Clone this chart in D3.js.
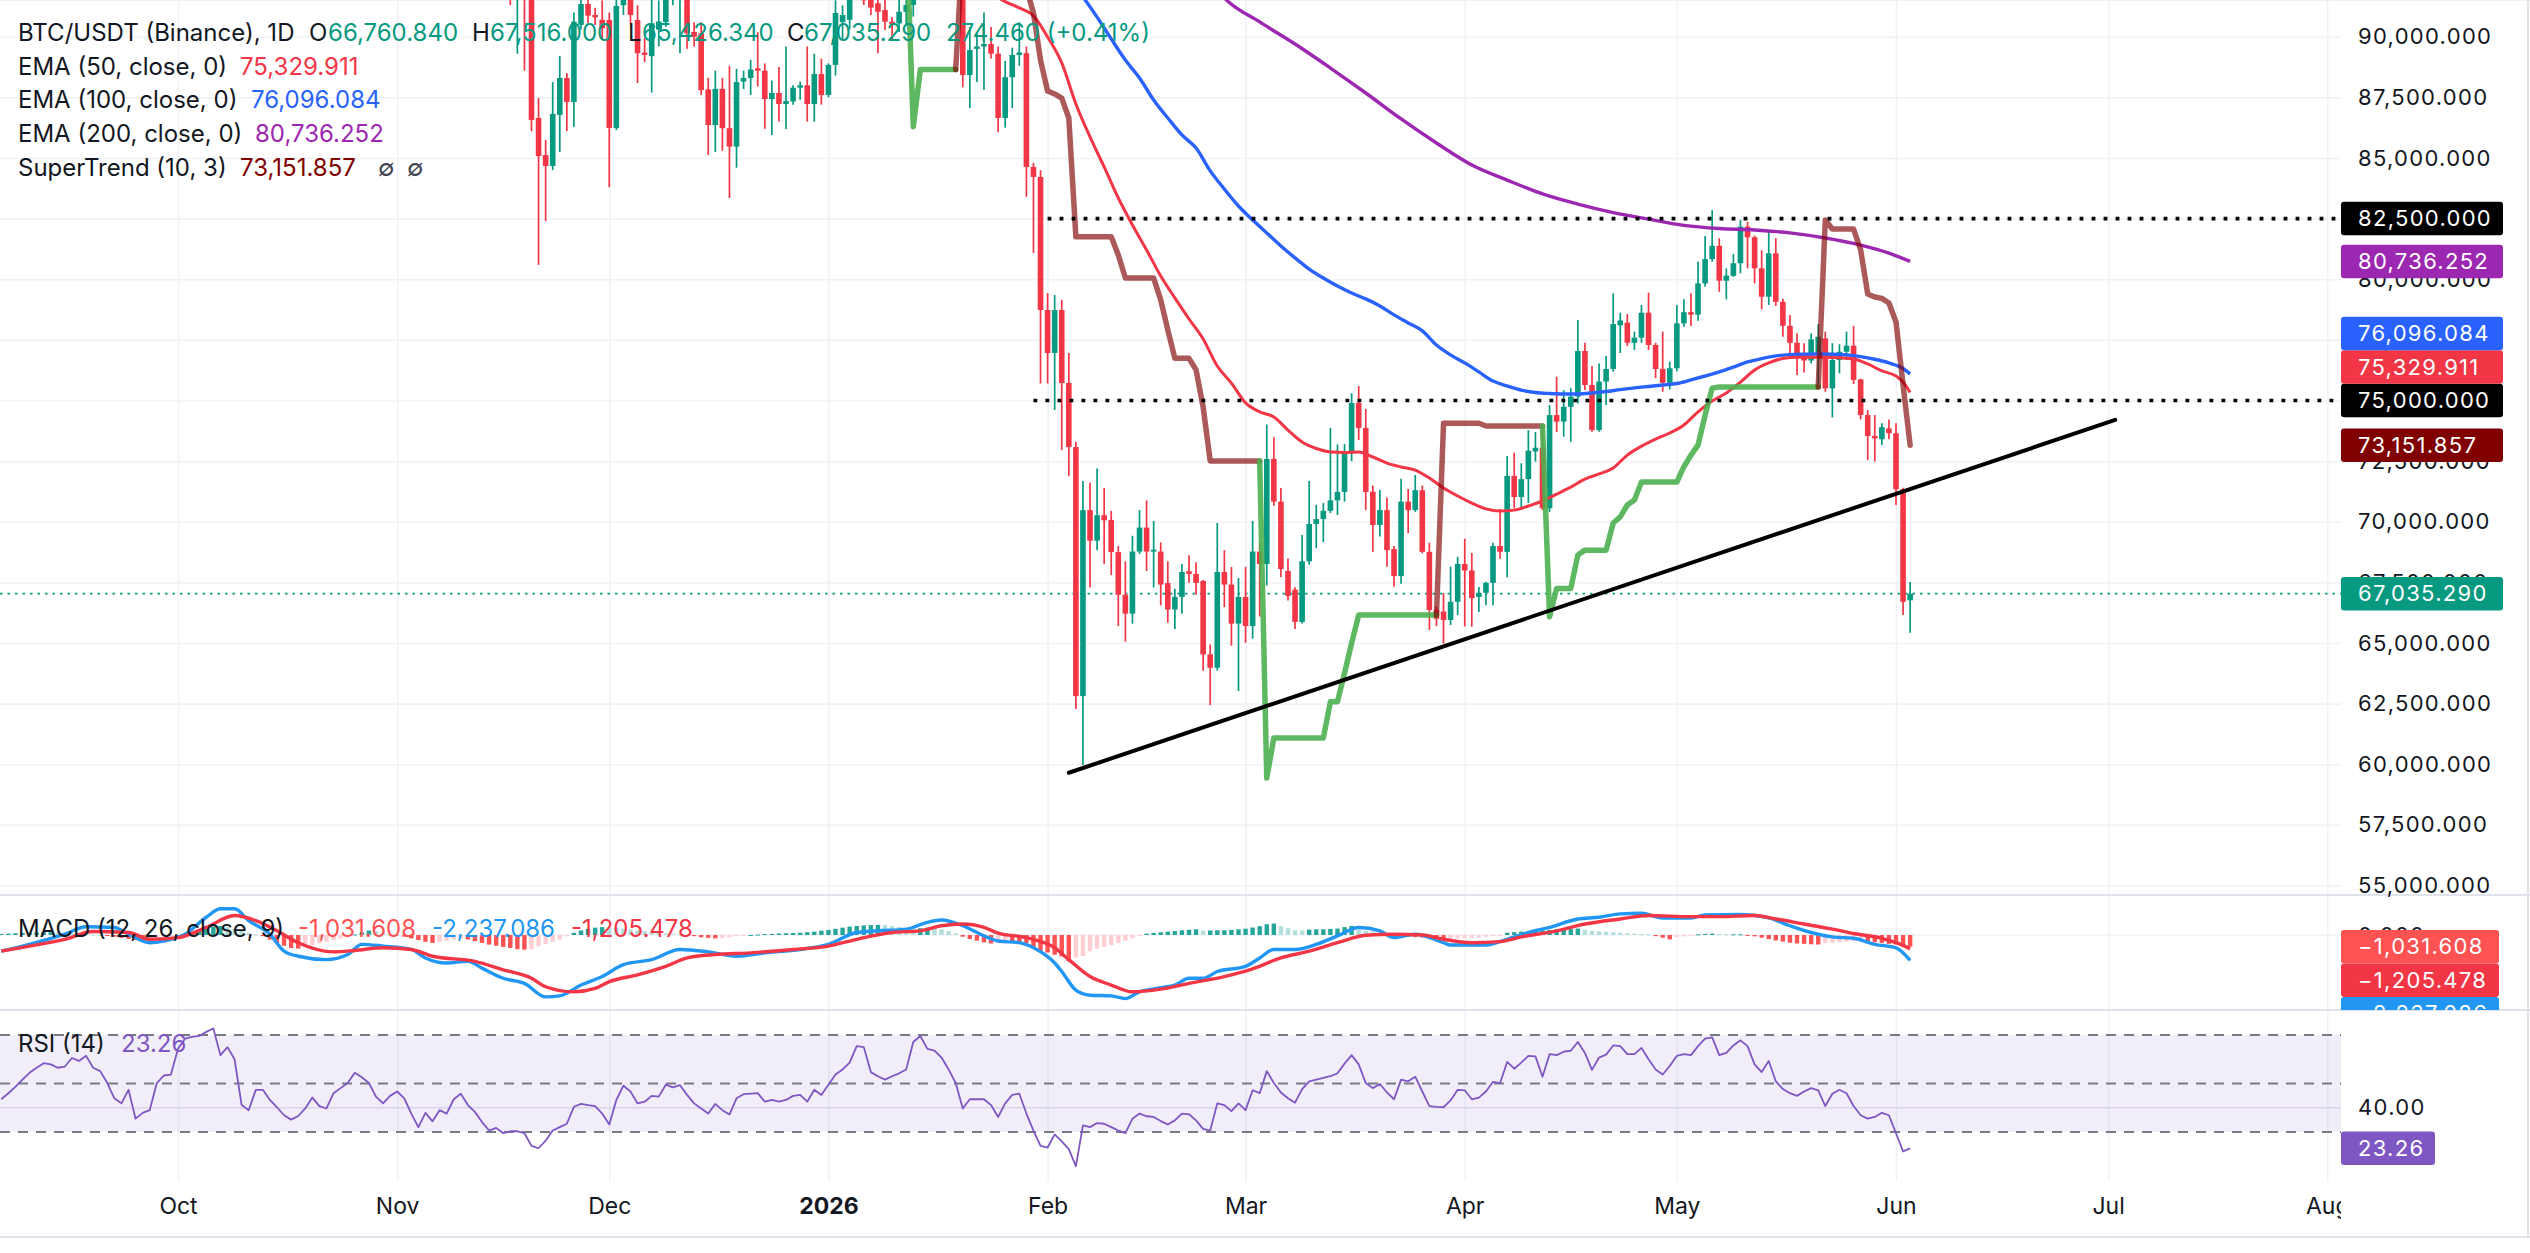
<!DOCTYPE html>
<html>
<head>
<meta charset="utf-8">
<script src="https://cdn.jsdelivr.net/npm/d3@7"></script>
<style>
html, body { margin: 0; padding: 0; background: #fff; }
svg { display: block; font-family: Inter, "Noto Sans", sans-serif; }
</style>
</head>
<body>
<svg id="chart" width="2530" height="1253"></svg>
<script>
// ---- data ----
// daily candles: date, open, high, low, close (days fully above the pane are left out)
var candles = [
  ["2025-11-17",93500,94000,91300,92200],["2025-11-18",91800,93500,89300,92500],["2025-11-19",92300,93000,88600,91600],
  ["2025-11-20",92000,92600,86100,86570],["2025-11-21",86650,87470,80590,85080],["2025-11-22",85120,85740,82400,84670],
  ["2025-11-23",84670,88130,84500,86820],["2025-11-24",86780,89210,85250,88300],["2025-11-25",88300,88500,86110,87310],
  ["2025-11-26",87310,91000,86280,90620],["2025-11-27",90490,91800,90300,91350],["2025-11-28",91350,91900,90570,90870],
  ["2025-11-29",90900,91200,90480,90800],["2025-11-30",90700,91500,89900,90350],["2025-12-01",90690,91000,83800,86240],
  ["2025-12-02",86240,92000,86150,91270],["2025-12-03",91300,93400,90900,92800],["2025-12-04",93000,93500,90500,90900],
  ["2025-12-05",90690,91300,88090,89320],["2025-12-06",89350,89950,88950,89250],["2025-12-07",89200,91600,87700,90560],
  ["2025-12-08",90300,91500,89600,90630],["2025-12-09",90600,92500,90400,92000],["2025-12-10",92000,93000,91300,92500],
  ["2025-12-11",91600,93000,89320,92400],["2025-12-12",92000,92500,89500,90140],["2025-12-13",90200,90600,89600,90000],
  ["2025-12-14",90140,90600,87600,87800],["2025-12-15",87830,88300,85120,86360],["2025-12-16",86360,88600,85250,87850],
  ["2025-12-17",87850,88300,85300,86230],["2025-12-18",86230,88800,83350,85470],["2025-12-19",85470,88680,84600,88130],
  ["2025-12-20",88150,88600,87850,88300],["2025-12-21",88300,89050,87600,88650],["2025-12-22",88700,90190,87950,88600],
  ["2025-12-23",88600,88900,86200,87430],["2025-12-24",87430,88200,85950,87680],["2025-12-25",87680,88750,86500,87225],
  ["2025-12-26",87225,89600,86200,87350],["2025-12-27",87330,88000,87200,87900],["2025-12-28",87900,88150,87400,88000],
  ["2025-12-29",88000,89600,86500,87225],["2025-12-30",87225,89300,86500,88460],["2025-12-31",88460,89100,87200,87600],
  ["2026-01-01",87600,88900,87500,88840],["2026-01-02",88840,91500,88400,90980],["2026-01-03",90600,91300,89900,90900],
  ["2026-01-04",90700,92500,90300,92000],["2026-01-06",92500,93500,91310,91500],["2026-01-07",92000,92500,90900,91200],
  ["2026-01-08",91380,91800,89320,91030],["2026-01-09",91100,91520,90280,90620],["2026-01-10",90620,90800,89900,90520],
  ["2026-01-11",90550,91600,90200,91030],["2026-01-12",91030,91600,90500,91310],["2026-01-13",91310,92500,90830,92000],
  ["2026-01-20",93500,94000,87920,88420],["2026-01-21",88420,90400,87060,89450],["2026-01-22",89500,90200,88130,89600],
  ["2026-01-23",89600,91000,87800,89700],["2026-01-24",89700,90400,89100,89300],["2026-01-25",89300,89600,86060,86650],
  ["2026-01-26",86650,89000,86250,88330],["2026-01-27",88330,89550,87060,89250],["2026-01-28",89250,90600,88800,89350],
  ["2026-01-29",89320,89600,83400,84630],["2026-01-30",84630,84800,81080,84220],["2026-01-31",84220,84500,75700,78730],
  ["2026-02-01",78730,79430,75700,76960],["2026-02-02",76960,79350,74610,78730],["2026-02-03",78730,79150,72960,75720],
  ["2026-02-04",75720,76960,71880,73080],["2026-02-05",73080,73300,62280,62810],["2026-02-06",62810,71680,59970,70480],
  ["2026-02-07",70480,71620,67290,69220],["2026-02-08",69220,72200,68830,70270],["2026-02-09",70270,71390,68260,70060],
  ["2026-02-10",70070,70450,67800,68750],["2026-02-11",68750,69000,65700,66990],["2026-02-12",66990,68370,65060,66210],
  ["2026-02-13",66210,69420,65800,68770],["2026-02-14",68770,70480,68670,69760],["2026-02-15",69760,70880,67970,68770],
  ["2026-02-16",68770,70030,67290,68850],["2026-02-17",68770,69150,66550,67410],["2026-02-18",67470,68370,65840,66380],
  ["2026-02-19",66380,67240,65580,66900],["2026-02-20",66900,68260,66210,67930],["2026-02-21",67960,68620,67480,67850],
  ["2026-02-22",67850,68330,66990,67480],["2026-02-23",67560,67600,63860,64530],["2026-02-24",64530,64940,62440,63980],
  ["2026-02-25",63980,69950,63860,67930],["2026-02-26",67930,68830,66480,67410],["2026-02-27",67410,68140,64890,65800],
  ["2026-02-28",65800,67680,63020,66900],["2026-03-01",66900,68140,65010,65700],["2026-03-02",65700,70030,65180,68770],
  ["2026-03-03",68770,69150,66090,68260],["2026-03-04",68260,74010,67370,72590],["2026-03-05",72590,73490,70660,70830],
  ["2026-03-06",70830,71390,67720,68050],["2026-03-07",67970,68480,66750,66940],["2026-03-08",67200,67300,65580,65870],
  ["2026-03-09",65870,69450,65800,68370],["2026-03-10",68370,71680,68230,69910],["2026-03-11",69910,70700,68910,70110],
  ["2026-03-12",70110,70770,69160,70450],["2026-03-13",70450,73870,70360,70880],["2026-03-14",70880,73190,70280,71230],
  ["2026-03-15",71230,73200,70830,72850],["2026-03-16",72830,75300,72500,74900],["2026-03-17",74900,75600,73370,73870],
  ["2026-03-18",73870,74650,70480,71230],["2026-03-19",71240,71500,68760,69870],["2026-03-20",69870,71310,69390,70480],
  ["2026-03-21",70480,71000,68140,68830],["2026-03-22",68870,69000,67320,67760],["2026-03-23",67760,71770,67440,70830],
  ["2026-03-24",70830,71350,69530,70480],["2026-03-25",70480,71930,70410,71300],["2026-03-26",71300,71500,68700,68760],
  ["2026-03-27",68760,69130,65540,66360],["2026-03-28",66360,66500,65700,66000],["2026-03-29",66300,67060,64980,65950],
  ["2026-03-30",65950,68150,65740,66700],["2026-03-31",66700,68560,66150,68260],["2026-04-01",68260,69300,65680,67990],
  ["2026-04-02",67990,68710,65670,66850],["2026-04-03",66900,67310,66280,67070],["2026-04-04",67070,67530,66560,67480],
  ["2026-04-05",67480,69130,66560,69000],["2026-04-06",69000,70530,68470,68760],["2026-04-07",68760,72710,67710,71890],
  ["2026-04-08",71890,72850,70560,71020],["2026-04-09",71020,72410,70480,71760],["2026-04-10",71760,73780,70780,72930],
  ["2026-04-11",72900,73700,72480,73050],["2026-04-12",73050,73920,70480,70560],["2026-04-13",70560,74810,70400,74400],
  ["2026-04-14",74400,75980,73700,74130],["2026-04-15",74130,75430,73510,74740],["2026-04-16",74740,75510,73300,75160],
  ["2026-04-17",75160,78320,74880,77040],["2026-04-18",77040,77380,75430,75640],["2026-04-19",75640,76420,73710,73780],
  ["2026-04-20",73780,76530,73710,75780],["2026-04-21",75780,76840,74810,76300],["2026-04-22",76300,79420,76190,78150],
  ["2026-04-23",78100,78620,76960,78300],["2026-04-24",78210,78570,77250,77380],["2026-04-25",77380,77840,77080,77590],
  ["2026-04-26",77590,78940,77380,78620],["2026-04-27",78620,79450,77080,77290],["2026-04-28",77290,77380,75920,76300],
  ["2026-04-29",76300,77840,75360,75730],["2026-04-30",75730,76600,75460,76330],["2026-05-01",76330,78940,76200,78180],
  ["2026-05-02",78180,79170,78040,78640],["2026-05-03",78640,79420,78070,78540],["2026-05-04",78540,80720,78290,79830],
  ["2026-05-05",79830,81780,79690,80830],["2026-05-06",80830,82850,80720,81380],["2026-05-07",81380,81690,79480,79940],
  ["2026-05-08",79940,80450,79170,80150],["2026-05-09",80140,81040,80100,80660],["2026-05-10",80660,82440,80250,82170],
  ["2026-05-11",82170,82370,80450,81730],["2026-05-12",81730,81800,79830,80450],["2026-05-13",80450,81200,78760,79280],
  ["2026-05-14",79280,82030,78940,81070],["2026-05-15",81070,81690,78900,79070],["2026-05-16",79070,79200,77630,78080],
  ["2026-05-17",78080,78530,76800,77380],["2026-05-18",77380,77770,76050,76880],["2026-05-19",76950,77360,76150,76650],
  ["2026-05-20",76650,77770,76530,77520],["2026-05-21",76900,78150,75570,77630],["2026-05-22",77560,77840,75360,75500],
  ["2026-05-23",75500,77360,74300,76670],["2026-05-24",76670,77320,76120,77010],["2026-05-25",77010,77840,76670,77260],
  ["2026-05-26",77260,78070,75680,75850],["2026-05-27",75870,75900,74220,74400],["2026-05-28",74400,74610,72540,73540],
  ["2026-05-29",73540,74400,72480,73440],["2026-05-30",73400,74060,73160,73900],["2026-05-31",73850,74220,73400,73650],
  ["2026-06-01",73650,74060,70690,71340],["2026-06-02",71340,71400,66150,66700],["2026-06-03",66760.84,67516,65426.34,67035.29]
];

var ema50 = [
  ["2026-01-24",91800],["2026-01-26",91450],["2026-01-28",91190],["2026-01-30",90860],["2026-02-01",89990],
  ["2026-02-03",88920],["2026-02-05",87230],["2026-02-07",85870],["2026-02-09",84630],["2026-02-11",83350],
  ["2026-02-13",82240],["2026-02-15",81210],["2026-02-17",80130],["2026-02-19",79230],["2026-02-21",78360],
  ["2026-02-23",77540],["2026-02-25",76420],["2026-02-27",75720],["2026-03-01",74900],["2026-03-03",74530],
  ["2026-03-05",74320],["2026-03-07",73780],["2026-03-09",73290],["2026-03-11",73020],["2026-03-13",72880],
  ["2026-03-15",72860],["2026-03-17",72880],["2026-03-19",72670],["2026-03-21",72420],["2026-03-23",72260],
  ["2026-03-25",72130],["2026-03-27",71800],["2026-03-29",71390],["2026-03-31",71060],["2026-04-02",70770],
  ["2026-04-04",70530],["2026-04-06",70440],["2026-04-08",70480],["2026-04-10",70650],["2026-04-12",70860],
  ["2026-04-14",71140],["2026-04-16",71430],["2026-04-18",71760],["2026-04-20",71970],["2026-04-22",72220],
  ["2026-04-24",72750],["2026-04-26",73120],["2026-04-28",73410],["2026-04-30",73660],["2026-05-02",73990],
  ["2026-05-04",74530],["2026-05-06",74980],["2026-05-08",75310],["2026-05-10",75760],["2026-05-12",76260],
  ["2026-05-14",76550],["2026-05-16",76730],["2026-05-18",76780],["2026-05-20",76780],["2026-05-22",76780],
  ["2026-05-24",76760],["2026-05-26",76710],["2026-05-28",76510],["2026-05-30",76220],["2026-06-01",76010],
  ["2026-06-02",75760],["2026-06-03",75329.911]
];

var ema100 = [
  ["2026-02-04",92380],["2026-02-06",91640],["2026-02-08",90810],["2026-02-10",89910],["2026-02-12",89040],
  ["2026-02-14",88300],["2026-02-16",87390],["2026-02-18",86650],["2026-02-20",85950],["2026-02-22",85410],
  ["2026-02-24",84470],["2026-02-26",83720],["2026-02-28",83020],["2026-03-02",82440],["2026-03-04",81910],
  ["2026-03-06",81370],["2026-03-08",80880],["2026-03-10",80420],["2026-03-12",80050],["2026-03-14",79720],
  ["2026-03-16",79430],["2026-03-18",79190],["2026-03-20",78900],["2026-03-22",78530],["2026-03-24",78200],
  ["2026-03-26",77870],["2026-03-28",77290],["2026-03-30",76880],["2026-04-01",76550],["2026-04-03",76180],
  ["2026-04-05",75800],["2026-04-07",75600],["2026-04-09",75430],["2026-04-11",75330],["2026-04-13",75290],
  ["2026-04-15",75270],["2026-04-17",75270],["2026-04-19",75310],["2026-04-21",75370],["2026-04-23",75450],
  ["2026-04-25",75520],["2026-04-27",75580],["2026-04-29",75640],["2026-05-01",75700],["2026-05-03",75850],
  ["2026-05-05",76010],["2026-05-07",76180],["2026-05-09",76380],["2026-05-11",76590],["2026-05-13",76730],
  ["2026-05-15",76840],["2026-05-17",76890],["2026-05-19",76910],["2026-05-21",76920],["2026-05-23",76910],
  ["2026-05-25",76880],["2026-05-27",76810],["2026-05-29",76700],["2026-05-31",76550],["2026-06-02",76320],
  ["2026-06-03",76096.084]
];

var ema200 = [
  ["2026-02-24",92300],["2026-02-26",91600],["2026-03-03",90610],["2026-03-08",89700],["2026-03-13",88710],
  ["2026-03-18",87680],["2026-03-23",86610],["2026-03-28",85620],["2026-04-02",84710],["2026-04-07",84090],
  ["2026-04-12",83520],["2026-04-17",83100],["2026-04-22",82750],["2026-04-27",82480],["2026-05-02",82220],
  ["2026-05-07",82090],["2026-05-12",82030],["2026-05-17",81910],["2026-05-22",81700],["2026-05-27",81410],
  ["2026-05-31",81080],["2026-06-03",80736.252]
];

// SuperTrend (10, 3): first day, last day, level, direction (1 = up / green, -1 = down)
var superTrend = [
  ["2026-01-10","2026-01-12",94600,-1],["2026-01-13","2026-01-13",86290,1],["2026-01-14","2026-01-19",88650,1],
  ["2026-01-20","2026-01-25",93800,-1],["2026-01-26","2026-01-29",92000,-1],["2026-01-30","2026-01-30",90980,-1],
  ["2026-01-31","2026-01-31",89040,-1],["2026-02-01","2026-02-01",87760,-1],["2026-02-02","2026-02-02",87640,-1],
  ["2026-02-03","2026-02-03",87470,-1],["2026-02-04","2026-02-04",86650,-1],["2026-02-05","2026-02-10",81750,-1],
  ["2026-02-11","2026-02-11",81000,-1],["2026-02-12","2026-02-16",80050,-1],["2026-02-17","2026-02-17",79150,-1],
  ["2026-02-18","2026-02-18",77910,-1],["2026-02-19","2026-02-21",76740,-1],["2026-02-22","2026-02-22",76260,-1],
  ["2026-02-23","2026-02-23",74730,-1],["2026-02-24","2026-03-03",72510,-1],["2026-03-04","2026-03-04",59430,1],
  ["2026-03-05","2026-03-12",61080,1],["2026-03-13","2026-03-14",62580,1],["2026-03-15","2026-03-15",63760,1],
  ["2026-03-16","2026-03-16",65000,1],["2026-03-17","2026-03-28",66150,1],["2026-03-29","2026-04-03",74060,-1],
  ["2026-04-04","2026-04-12",73950,-1],["2026-04-13","2026-04-13",66080,1],["2026-04-14","2026-04-16",67250,1],
  ["2026-04-17","2026-04-17",68630,1],["2026-04-18","2026-04-21",68830,1],["2026-04-22","2026-04-22",69950,1],
  ["2026-04-23","2026-04-23",70200,1],["2026-04-24","2026-04-24",70690,1],["2026-04-25","2026-04-25",70900,1],
  ["2026-04-26","2026-05-01",71640,1],["2026-05-02","2026-05-02",72270,1],["2026-05-03","2026-05-03",72750,1],
  ["2026-05-04","2026-05-04",73160,1],["2026-05-05","2026-05-05",74400,1],["2026-05-06","2026-05-06",75510,1],
  ["2026-05-07","2026-05-21",75560,1],["2026-05-22","2026-05-22",82440,-1],["2026-05-23","2026-05-26",82070,-1],
  ["2026-05-27","2026-05-27",81210,-1],["2026-05-28","2026-05-28",79390,-1],["2026-05-29","2026-05-29",79270,-1],
  ["2026-05-30","2026-05-30",79210,-1],["2026-05-31","2026-05-31",79020,-1],["2026-06-01","2026-06-01",78240,-1],
  ["2026-06-02","2026-06-02",75640,-1],["2026-06-03","2026-06-03",73151.857,-1]
];

var trendLine = [["2026-02-04",59650],["2026-07-02",74200]];
var levels = [["2026-02-01",82500],["2026-01-30",75000]];
var lastClose = 67035.29;

// MACD (12, 26, close, 9)
var macdLine = [
  ["2025-09-06",-1430],["2025-09-10",-830],["2025-09-15",70],["2025-09-18",730],["2025-09-22",670],["2025-09-24",70],
  ["2025-09-27",-680],["2025-09-29",-530],["2025-10-02",70],["2025-10-05",1570],["2025-10-07",2320],["2025-10-09",2320],
  ["2025-10-11",1270],["2025-10-14",70],["2025-10-16",-1430],["2025-10-18",-1880],["2025-10-22",-2180],["2025-10-25",-1730],
  ["2025-10-27",-830],["2025-10-30",-980],["2025-11-03",-1280],["2025-11-05",-2030],["2025-11-08",-2480],["2025-11-11",-2330],
  ["2025-11-13",-2930],["2025-11-16",-3830],["2025-11-19",-4280],["2025-11-22",-5480],["2025-11-24",-5390],["2025-11-27",-4430],
  ["2025-11-30",-3680],["2025-12-03",-2630],["2025-12-07",-2180],["2025-12-11",-1280],["2025-12-15",-1490],["2025-12-19",-1880],
  ["2025-12-23",-1580],["2025-12-28",-1280],["2026-01-01",-830],["2026-01-05",220],["2026-01-08",370],["2026-01-12",520],
  ["2026-01-15",1120],["2026-01-17",1330],["2026-01-20",820],["2026-01-23",-80],["2026-01-25",-530],["2026-01-28",-680],
  ["2026-01-30",-1130],["2026-02-02",-2480],["2026-02-03",-3230],["2026-02-05",-4880],["2026-02-07",-5330],["2026-02-10",-5390],
  ["2026-02-12",-5630],["2026-02-14",-5030],["2026-02-17",-4670],["2026-02-19",-4430],["2026-02-21",-3830],["2026-02-23",-3830],
  ["2026-02-25",-3230],["2026-03-01",-2780],["2026-03-03",-2030],["2026-03-05",-1280],["2026-03-08",-1280],["2026-03-11",-830],
  ["2026-03-14",-80],["2026-03-17",670],["2026-03-20",370],["2026-03-22",-230],["2026-03-25",70],["2026-03-29",-680],
  ["2026-03-30",-890],["2026-04-04",-890],["2026-04-07",-380],["2026-04-10",220],["2026-04-13",670],["2026-04-17",1420],
  ["2026-04-20",1570],["2026-04-23",1870],["2026-04-26",1930],["2026-04-29",1510],["2026-05-03",1510],["2026-05-05",1780],
  ["2026-05-10",1810],["2026-05-14",1510],["2026-05-17",820],["2026-05-20",220],["2026-05-23",-170],["2026-05-26",-290],
  ["2026-05-29",-830],["2026-06-01",-1130],["2026-06-03",-2237.086]
];
var signalLine = [
  ["2025-09-06",-1430],["2025-09-10",-980],["2025-09-15",-380],["2025-09-19",310],["2025-09-24",220],["2025-09-27",-380],
  ["2025-10-01",-230],["2025-10-05",670],["2025-10-09",1720],["2025-10-12",1270],["2025-10-15",370],["2025-10-18",-680],
  ["2025-10-23",-1490],["2025-10-26",-1370],["2025-10-30",-1130],["2025-11-03",-1280],["2025-11-06",-1880],["2025-11-12",-2330],
  ["2025-11-16",-3080],["2025-11-20",-3830],["2025-11-22",-4580],["2025-11-26",-5030],["2025-11-29",-4730],["2025-12-01",-4130],
  ["2025-12-05",-3530],["2025-12-09",-2780],["2025-12-12",-2030],["2025-12-16",-1730],["2025-12-21",-1580],["2025-12-27",-1280],
  ["2026-01-01",-980],["2026-01-05",-380],["2026-01-10",220],["2026-01-14",370],["2026-01-17",820],["2026-01-20",970],
  ["2026-01-23",670],["2026-01-25",170],["2026-01-29",-230],["2026-02-02",-1130],["2026-02-04",-2180],["2026-02-07",-3680],
  ["2026-02-10",-4430],["2026-02-13",-5030],["2026-02-17",-4790],["2026-02-21",-4280],["2026-02-26",-3680],["2026-03-02",-2990],
  ["2026-03-06",-2030],["2026-03-10",-1430],["2026-03-14",-680],["2026-03-18",-20],["2026-03-22",70],["2026-03-26",10],
  ["2026-03-29",-380],["2026-04-02",-680],["2026-04-06",-590],["2026-04-09",-170],["2026-04-14",370],["2026-04-18",970],
  ["2026-04-23",1420],["2026-04-27",1720],["2026-05-03",1630],["2026-05-07",1630],["2026-05-12",1720],["2026-05-15",1420],
  ["2026-05-19",970],["2026-05-23",520],["2026-05-26",130],["2026-05-30",-290],["2026-06-01",-680],["2026-06-03",-1205.478]
];
// histogram, one bar a day
var histStartA = "2025-09-06";
var histA = [
  100,120,150,180,200,220,250,250,230,200,150,120,
  80,40,0,-60, -150,-250,-350,-450,-500,-400, -300,-200,-100,0,100,200,
  400,600,750,800,700, 550,400,200,50,-100, -400,-700,-950,-1150,-1200,
  -1050,-900,-750,-600,-450, -300,-150,50,250,400,350, 200,100,0,
  -150,-300,-450,-600,-700, -600,-500,-400,-300,
  -400,-550,-700,-850,-950,-1050,-1150,-1250,-1300,-1250, -1000,-800,-600,-400,
  -100,200,400,550,650,700,680,620,560,500, 420,350,280,200,150,100,
  50,-50,-100,-200,-250,-300,-250,-200, -120,-60,0,40,80,100,130,150,180,200,
  250,300,380,450,550,650,750,800,850,880,900,880, 800,700,600,550,600,650,
  620,500,350,150, -150,-350,-500,-650,-750,-700
];
var histStartB = "2026-01-26";
var histB = [
  -450,-550,-650,-700,-1100,-1400,-1550,-1750,-1900,-2340,
  -2000,-1850,-1450,-1200,-1050,-900,-720,-500,-280,-80,
  120,180,240,300,350,420,470,510,380,400,
  420,420,450,500,560,660,780,950,1020,800,
  600,420,400,480,500,510,540,570,700,810,
  480,380,300,210,-100,-150,-200,-120,-180,-220,
  -300,-380,-390,-330,-300,-260,-240,-200,-160,-100,
  -40,200,250,300,330,360,400,450,500,510,
  520,570,450,360,330,300,240,200,150,120,
  80,60,-100,-240,-390,-180,-120,-90,60,100,
  120,80,60,60,60,-60,-120,-240,-360,-480,
  -580,-690,-750,-780,-820,-840,-720,-690,-640,-600,
  -520,-480,-540,-640,-700,-780,-840,-950,-1031.608
];

// RSI (14), one value a day
var rsiStartA = "2025-09-06";
var rsiA = [
  43.5,46.0,48.6,51.6,54.4,56.5,58.4,57.9,56.5,57.0,
  60.5,59.3,61.4,56.5,55.1,50.2,43.9,41.8,47.4,35.5,
  37.9,39.0,50.2,53.3,53.7,64.3,68.5,69.2,69.6,71.3,
  72.7,61.7,65.0,60.0,41.1,39.0,47.4,47.4,43.2,40.2,
  36.9,35.1,36.6,39.7,44.2,40.7,39.7,46.0,48.1,50.2,
  54.4,52.6,50.2,44.6,41.8,44.9,46.7,43.9,37.6,32.0,
  37.9,34.4,39.0,37.6,43.5,45.8,41.1,38.3,34.1,30.6,
  31.7,29.5,30.3,30.3,29.5,24.3,23.3,26.4,30.6,32.0,
  33.4,40.4,41.6,41.1,40.7,37.6,33.1,43.2,49.1,46.7,
  41.8,42.5,44.9,44.6,49.5,48.4,49.3,45.3,41.8,39.7,
  37.6,41.6,39.0,37.2,43.9,45.6,45.8,46.0,42.5,43.2,
  42.5,43.2,44.9,45.3,42.5,47.4,45.3,49.5,53.7,55.8,
  58.6,65.4,65.0,54.7,53.0,51.6,53.0,54.2,55.8,67.1,
  69.6,64.3,63.6,60.7,55.8,50.2,39.7,43.5,43.5,43.5,
  41.1,36.2
];
var rsiStartB = "2026-01-26";
var rsiB = [
  41.8,45.3,45.8,37.6,30.6,24.3,23.6,29.0,26.1,22.9,
  15.9,32.7,32.0,33.7,33.4,32.0,30.6,29.5,35.5,37.6,
  36.5,36.2,34.5,33.1,34.8,37.6,37.3,34.8,31.3,30.6,
  41.8,41.1,38.6,41.8,39.0,47.2,46.0,55.1,50.2,46.3,
  43.9,42.1,47.7,50.9,51.6,52.3,53.0,54.2,58.2,61.7,
  57.9,50.2,48.1,49.8,46.3,43.5,51.6,50.9,52.8,46.7,
  40.7,40.4,40.2,43.0,47.4,47.2,43.5,44.2,46.7,50.7,
  50.2,58.9,56.1,58.6,61.4,61.2,52.8,62.1,61.7,63.1,
  63.5,67.1,62.6,55.6,60.7,61.9,65.7,65.4,62.1,62.1,
  64.7,60.0,55.8,53.7,57.2,61.4,62.1,61.7,65.4,68.5,
  69.0,61.7,62.6,65.7,67.8,65.4,57.9,54.7,59.3,50.9,
  47.7,46.0,44.9,46.7,48.1,47.2,40.7,45.8,47.4,46.0,
  40.7,36.9,35.5,36.2,37.9,36.9,29.5,22.0,23.26
];

var monthTicks = ["2025-10-01","2025-11-01","2025-12-01","2026-01-01","2026-02-01","2026-03-01",
  "2026-04-01","2026-05-01","2026-06-01","2026-07-01","2026-08-01"];
var monthLabels = ["Oct","Nov","Dec","2026","Feb","Mar","Apr","May","Jun","Jul","Aug"];
var priceTicks = d3.range(55000, 90001, 2500);

// ---- layout ----
var parseDay = d3.utcParse("%Y-%m-%d");
var plotRight = 2341, mainBottom = 894, macdTop = 896, macdBottom = 1009, rsiTop = 1011, rsiBottom = 1181;
var upColor = "#089981", downColor = "#F23645";
var textColor = "#131722", gridColor = "#F0F2F6", sepColor = "#E0E3EB";
var axisFont = 22, legendFont = 24;

var x = d3.scaleUtc()
    .domain([parseDay("2025-10-01"), parseDay("2026-06-01")])
    .range([178, 1896]);
var y = d3.scaleLinear().domain([54650, 91515]).range([mainBottom, 0]);
var yMacd = d3.scaleLinear().domain([-5630, 0]).range([998.6, 935]);
var yRsi = d3.scaleLinear().domain([30, 70]).range([1132, 1035]);

var svg = d3.select("#chart");
var defs = svg.append("defs");
var clip = (id, x0, y0, w, h) => defs.append("clipPath").attr("id", id)
    .append("rect").attr("x", x0).attr("y", y0).attr("width", w).attr("height", h);
clip("clipMain", 0, 0, plotRight, mainBottom);
clip("clipMacd", 0, macdTop, plotRight, macdBottom - macdTop);
clip("clipRsi", 0, rsiTop, plotRight, rsiBottom - rsiTop);
clip("clipTime", 0, rsiBottom, plotRight, 56);
clip("clipMacdAxis", plotRight, macdTop, 200, macdBottom - macdTop + 1);

svg.append("rect").attr("width", 2530).attr("height", 1253).attr("fill", "#fff");

// grid
svg.append("g")
    .attr("transform", `translate(0,${rsiBottom})`)
    .call(d3.axisBottom(x).tickValues(monthTicks.map(parseDay)).tickSize(-rsiBottom).tickFormat(""))
    .call(g => g.select(".domain").remove())
    .call(g => g.selectAll(".tick line").attr("stroke", gridColor).attr("stroke-width", 1.6));

svg.append("g")
    .call(d3.axisLeft(y).tickValues(priceTicks).tickSize(-plotRight).tickFormat(""))
    .call(g => g.select(".domain").remove())
    .call(g => g.selectAll(".tick line").attr("stroke", gridColor).attr("stroke-width", 1.6));

svg.append("line").attr("x1", 0).attr("x2", plotRight).attr("y1", yMacd(0)).attr("y2", yMacd(0))
    .attr("stroke", gridColor).attr("stroke-width", 1.6);
svg.append("line").attr("x1", 0).attr("x2", plotRight).attr("y1", yRsi(40)).attr("y2", yRsi(40))
    .attr("stroke", "#E6E3EF").attr("stroke-width", 1.6);

// separators
[[0, 1], [mainBottom + 1, 2], [rsiTop - 1, 2], [1237, 2]].forEach(s => {
    svg.append("line").attr("x1", 0).attr("x2", 2530).attr("y1", s[0]).attr("y2", s[0])
        .attr("stroke", sepColor).attr("stroke-width", s[1]);
});
svg.append("line").attr("x1", 2528).attr("x2", 2528).attr("y1", 0).attr("y2", 1238)
    .attr("stroke", sepColor).attr("stroke-width", 2);

// ---- main pane ----
var main = svg.append("g").attr("clip-path", "url(#clipMain)");

main.append("line")
    .attr("x1", 0).attr("x2", plotRight).attr("y1", y(lastClose)).attr("y2", y(lastClose))
    .attr("stroke", upColor).attr("stroke-width", 1.6).attr("stroke-dasharray", "2.5 5");

var bars = candles.map(c => ({date: parseDay(c[0]), o: c[1], h: c[2], l: c[3], c: c[4]}));
var barColor = d => d.c >= d.o ? upColor : downColor;

main.append("g").selectAll("line").data(bars).join("line")
    .attr("x1", d => x(d.date)).attr("x2", d => x(d.date))
    .attr("y1", d => y(d.h)).attr("y2", d => y(d.l))
    .attr("stroke", barColor).attr("stroke-width", 1.7);

main.append("g").selectAll("rect").data(bars).join("rect")
    .attr("x", d => x(d.date) - 2.8).attr("width", 5.6)
    .attr("y", d => y(Math.max(d.o, d.c)))
    .attr("height", d => Math.max(1.6, Math.abs(y(d.o) - y(d.c))))
    .attr("fill", barColor);

var emaLine = d3.line().x(d => x(parseDay(d[0]))).y(d => y(d[1])).curve(d3.curveMonotoneX);
[[ema200, "#9C27B0", 3.4], [ema100, "#2962FF", 3.4], [ema50, "#F23645", 3]].forEach(e => {
    main.append("path").datum(e[0]).attr("d", emaLine)
        .attr("fill", "none").attr("stroke", e[1]).attr("stroke-width", e[2])
        .attr("stroke-linejoin", "round");
});

// SuperTrend, coloured piece by piece
var stPoints = [];
superTrend.forEach(r => {
    d3.utcDays(parseDay(r[0]), d3.utcDay.offset(parseDay(r[1]), 1))
        .forEach(d => stPoints.push({date: d, v: r[2], dir: r[3]}));
});
var stSegs = [];
for (var i = 1; i < stPoints.length; i++) {
    var last = stSegs[stSegs.length - 1];
    if (last && last.dir === stPoints[i].dir) last.pts.push(stPoints[i]);
    else stSegs.push({dir: stPoints[i].dir, pts: [stPoints[i - 1], stPoints[i]]});
}
var stLine = d3.line().x(d => x(d.date)).y(d => y(d.v));
main.append("g").selectAll("path").data(stSegs).join("path")
    .attr("d", d => stLine(d.pts))
    .attr("fill", "none")
    .attr("stroke", d => d.dir > 0 ? "#4CAF50" : "#800000")
    .attr("stroke-opacity", d => d.dir > 0 ? 0.9 : 0.65)
    .attr("stroke-width", 5.5)
    .attr("stroke-linejoin", "round").attr("stroke-linecap", "round");

// support / resistance
levels.forEach(l => {
    main.append("line")
        .attr("x1", x(parseDay(l[0]))).attr("x2", plotRight)
        .attr("y1", y(l[1])).attr("y2", y(l[1]))
        .attr("stroke", "#000").attr("stroke-width", 3.6).attr("stroke-dasharray", "3.8 8.2");
});
main.append("line")
    .attr("x1", x(parseDay(trendLine[0][0]))).attr("y1", y(trendLine[0][1]))
    .attr("x2", x(parseDay(trendLine[1][0]))).attr("y2", y(trendLine[1][1]))
    .attr("stroke", "#000").attr("stroke-width", 4).attr("stroke-linecap", "round");

// ---- MACD pane ----
var macdG = svg.append("g").attr("clip-path", "url(#clipMacd)");
var hist = [];
[[histStartA, histA], [histStartB, histB]].forEach(h => {
    h[1].forEach((v, i) => hist.push({date: d3.utcDay.offset(parseDay(h[0]), i), v: v}));
});
var histColor = (d, i) => {
    var prev = i > 0 ? hist[i - 1].v : d.v;
    if (d.v >= 0) return d.v >= prev ? "#26A69A" : "#B2DFDB";
    return d.v <= prev ? "#FF5252" : "#FFCDD2";
};
macdG.append("g").selectAll("rect").data(hist).join("rect")
    .attr("x", d => x(d.date) - 2.2).attr("width", 4.4)
    .attr("y", d => Math.min(yMacd(0), yMacd(d.v)))
    .attr("height", d => Math.max(1, Math.abs(yMacd(d.v) - yMacd(0))))
    .attr("fill", histColor);

var macdPath = d3.line().x(d => x(parseDay(d[0]))).y(d => yMacd(d[1])).curve(d3.curveMonotoneX);
[[macdLine, "#2196F3"], [signalLine, "#F23645"]].forEach(m => {
    macdG.append("path").datum(m[0]).attr("d", macdPath)
        .attr("fill", "none").attr("stroke", m[1]).attr("stroke-width", 3.4)
        .attr("stroke-linejoin", "round");
});

// ---- RSI pane ----
var rsiG = svg.append("g").attr("clip-path", "url(#clipRsi)");
rsiG.append("rect").attr("x", 0).attr("width", plotRight)
    .attr("y", yRsi(70)).attr("height", yRsi(30) - yRsi(70))
    .attr("fill", "#7E57C2").attr("fill-opacity", 0.1);
[70, 50, 30].forEach(v => {
    rsiG.append("line").attr("x1", 0).attr("x2", plotRight).attr("y1", yRsi(v)).attr("y2", yRsi(v))
        .attr("stroke", "#787B86").attr("stroke-width", 2).attr("stroke-dasharray", "10 8");
});
var rsi = [];
[[rsiStartA, rsiA], [rsiStartB, rsiB]].forEach(r => {
    r[1].forEach((v, i) => rsi.push({date: d3.utcDay.offset(parseDay(r[0]), i), v: v}));
});
rsiG.append("path").datum(rsi)
    .attr("d", d3.line().x(d => x(d.date)).y(d => yRsi(d.v)))
    .attr("fill", "none").attr("stroke", "#7E57C2").attr("stroke-width", 1.8).attr("stroke-linejoin", "round");

// ---- time axis ----
svg.append("g")
    .attr("clip-path", "url(#clipTime)")
  .append("g")
    .attr("transform", "translate(0,1195)")
    .call(d3.axisBottom(x).tickValues(monthTicks.map(parseDay)).tickSize(0).tickPadding(0)
        .tickFormat((d, i) => monthLabels[i]))
    .call(g => g.select(".domain").remove())
    .call(g => g.selectAll("text")
        .attr("dy", "0.32em").attr("y", 12)
        .attr("fill", textColor).attr("font-size", 23)
        .attr("font-family", "Inter, 'Noto Sans', sans-serif")
        .attr("font-weight", (d, i) => monthLabels[i] === "2026" ? 700 : 400));

// ---- price axis ----
svg.append("g")
    .attr("transform", "translate(2341,0)")
    .call(d3.axisRight(y).tickValues(priceTicks).tickFormat(d3.format(",.3f")).tickSize(0).tickPadding(17))
    .call(g => g.select(".domain").remove())
    .call(g => g.selectAll("text").attr("fill", textColor).attr("font-size", axisFont)
        .attr("letter-spacing", 1.3).attr("font-family", "Inter, 'Noto Sans', sans-serif"));

var fmt3 = d3.format(",.3f");
var boxH = 33.5;
function drawBoxes(list, scale, dir, width, fmt, clipId) {
    var items = list.map(l => ({v: l[0], color: l[1], y: scale(l[0])}));
    items.sort((a, b) => dir < 0 ? b.y - a.y : a.y - b.y);
    items.forEach((it, i) => {
        if (i === 0) return;
        var p = items[i - 1];
        if (dir < 0 && it.y > p.y - boxH) it.y = p.y - boxH;
        if (dir > 0 && it.y < p.y + boxH) it.y = p.y + boxH;
    });
    var g = svg.append("g");
    if (clipId) g.attr("clip-path", `url(#${clipId})`);
    var b = g.selectAll("g").data(items).join("g").attr("transform", d => `translate(${plotRight},${d.y})`);
    b.append("rect").attr("x", 0).attr("y", -boxH / 2).attr("width", width).attr("height", boxH)
        .attr("rx", 3).attr("fill", d => d.color);
    b.append("text").attr("x", 17).attr("dy", "0.35em").attr("fill", "#fff")
        .attr("font-size", axisFont).attr("letter-spacing", 1.3).text(d => fmt(d.v));
}

drawBoxes([[82500, "#000000"], [80736.252, "#9C27B0"], [76096.084, "#2962FF"], [75329.911, "#F23645"],
    [75000, "#000000"], [73151.857, "#800000"], [lastClose, upColor]], y, -1, 162, fmt3);

svg.append("text").attr("x", 2358).attr("y", yMacd(0)).attr("dy", "0.35em")
    .attr("fill", textColor).attr("font-size", axisFont).attr("letter-spacing", 1.3).text("0.000");
drawBoxes([[-1031.608, "#FF5252"], [-1205.478, "#F23645"], [-2237.086, "#2196F3"]],
    yMacd, 1, 158, fmt3, "clipMacdAxis");

svg.append("text").attr("x", 2358).attr("y", yRsi(40)).attr("dy", "0.35em")
    .attr("fill", textColor).attr("font-size", axisFont).attr("letter-spacing", 1.3).text("40.00");
drawBoxes([[23.26, "#7E57C2"]], yRsi, 1, 94, d3.format(".2f"));

// ---- legends ----
var legend = svg.append("g").attr("font-size", legendFont).attr("fill", textColor);
function legendRow(yPos, parts) {
    parts.forEach(p => {
        legend.append("text").attr("x", p[0]).attr("y", yPos).attr("dy", "0.35em")
            .attr("fill", p[2] || textColor).text(p[1]);
    });
}
legendRow(33, [[18, "BTC/USDT (Binance), 1D"], [309, "O"], [328, "66,760.840", upColor],
    [472, "H"], [490, "67,516.000", upColor], [628, "L"], [642, "65,426.340", upColor],
    [787, "C"], [804, "67,035.290", upColor], [946, "274.460 (+0.41%)", upColor]]);
legendRow(67, [[18, "EMA (50, close, 0)"], [240, "75,329.911", "#F23645"]]);
legendRow(100, [[18, "EMA (100, close, 0)"], [251, "76,096.084", "#2962FF"]]);
legendRow(134, [[18, "EMA (200, close, 0)"], [255, "80,736.252", "#9C27B0"]]);
legendRow(168, [[18, "SuperTrend (10, 3)"], [240, "73,151.857", "#800000"], [378, "\u2205", "#434651"], [407, "\u2205", "#434651"]]);
legendRow(929, [[18, "MACD (12, 26, close, 9)"], [298, "-1,031.608", "#FF5252"],
    [432, "-2,237.086", "#2196F3"], [571, "-1,205.478", "#F23645"]]);
legendRow(1044, [[18, "RSI (14)"], [121, "23.26", "#7E57C2"]]);
</script>
</body>
</html>
